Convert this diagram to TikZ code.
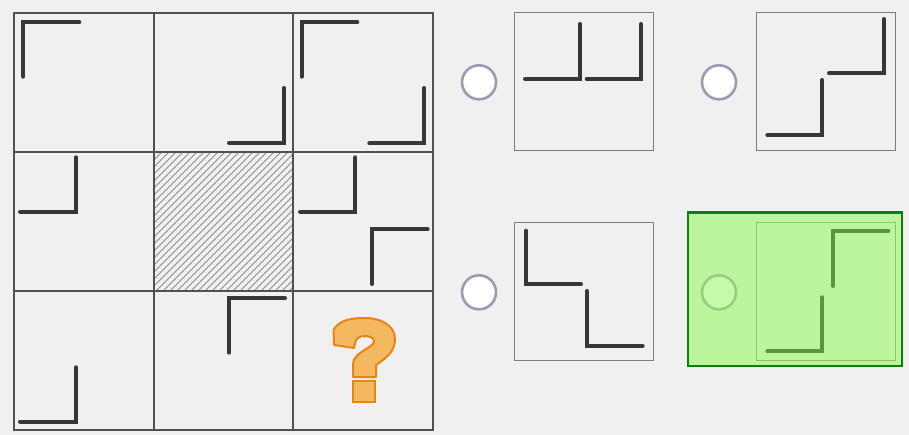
\documentclass[tikz,border=0pt]{standalone}
\usepackage{tikz}
\definecolor{bg}{RGB}{240,240,240}
\definecolor{gridc}{RGB}{80,80,80}
\definecolor{boxc}{RGB}{125,125,125}
\definecolor{lcol}{RGB}{55,55,55}
\definecolor{hatchc}{RGB}{140,140,140}
\definecolor{ringc}{RGB}{156,156,176}
\definecolor{qfill}{RGB}{244,184,96}
\definecolor{qline}{RGB}{232,132,16}
\definecolor{greenfill}{RGB}{187,245,158}
\definecolor{greenb}{RGB}{10,130,10}
\definecolor{greenbox}{RGB}{140,196,112}
\definecolor{greenline}{RGB}{90,150,62}
\definecolor{greenradio}{RGB}{196,250,168}
\definecolor{greenring}{RGB}{150,205,128}
\tikzset{
  lshape/.style={line width=4pt, draw=lcol, line cap=round, line join=miter},
  gridline/.style={line width=1.7pt, draw=gridc},
  optbox/.style={line width=1.3pt, draw=boxc},
  radio/.style={line width=2.6pt, draw=ringc, fill=white},
  hatchline/.style={line width=1pt, draw=hatchc},
}
\begin{document}
\begin{tikzpicture}[x=1pt,y=-1pt]
\useasboundingbox (0,0) rectangle (909,435);
\fill[bg] (0,0) rectangle (909,435);

% hatched centre cell
\begin{scope}
  \clip (154,152) rectangle (293,291);
  \foreach \c in {150,157,...,440} {
    \draw[hatchline] (\c,150) -- (\c-143,293);
  }
\end{scope}

% grid
\draw[gridline] (14,13) rectangle (433,430);
\draw[gridline] (154,13) -- (154,430);
\draw[gridline] (293,13) -- (293,430);
\draw[gridline] (14,152) -- (433,152);
\draw[gridline] (14,291) -- (433,291);

% row 1
\draw[lshape] (23.3,76.7) -- (23.3,22.3) -- (79.3,22.3);
\draw[lshape] (284,88) -- (284,143) -- (229,143);
\draw[lshape] (301.7,76.7) -- (301.7,22.3) -- (357.3,22.3);
\draw[lshape] (424.3,88) -- (424.3,143.3) -- (369.3,143.3);
% row 2
\draw[lshape] (76,157.3) -- (76,211.7) -- (20,211.7);
\draw[lshape] (355.3,157.3) -- (355.3,211.7) -- (300,211.7);
\draw[lshape] (372.3,284) -- (372.3,229.3) -- (427.7,229.3);
% row 3
\draw[lshape] (76,367.3) -- (76,421.7) -- (20,421.7);
\draw[lshape] (229,352.7) -- (229,298.3) -- (285,298.3);

% question mark
\draw[fill=qfill, draw=qline, line width=2pt, line join=round]
  (333.5,330) .. controls (338,321) and (350,318) .. (364,318)
  .. controls (382,318) and (395,326) .. (395,339)
  .. controls (395,352) and (386,358) .. (376,365)
  -- (376,377) -- (353,377) -- (353,364)
  .. controls (353,357) and (360,353) .. (366,349)
  .. controls (371,346) and (374,344) .. (374,341)
  .. controls (374,338) and (370,336) .. (364,336)
  .. controls (359,336) and (356,339) .. (355,343)
  -- (354,348) -- (334,345) -- cycle;
\draw[fill=qfill, draw=qline, line width=2pt] (352.5,380.5) rectangle (375,401.5);

% option A
\draw[radio] (479,82.3) circle (17);
\draw[optbox] (514.3,12.7) rectangle (653.7,150.7);
\draw[lshape] (580,24) -- (580,79) -- (525,79);
\draw[lshape] (641,24) -- (641,79) -- (586.7,79);

% option B
\draw[radio] (719,82.3) circle (17);
\draw[optbox] (756.7,12.7) rectangle (895.7,150.7);
\draw[lshape] (884,19) -- (884,73.3) -- (829,73.3);
\draw[lshape] (822.3,80) -- (822.3,135) -- (767.3,135);

% option C
\draw[radio] (479,292.3) circle (17);
\draw[optbox] (514.3,222.3) rectangle (653.7,360.7);
\draw[lshape] (526,230.7) -- (526,284.3) -- (581,284.3);
\draw[lshape] (586.7,291) -- (586.7,345.7) -- (642.7,345.7);

% option D (selected)
\draw[greenb, fill=greenfill, line width=2.4pt] (688,212.7) rectangle (901.7,366);
\draw[radio, draw=greenring, fill=greenradio] (719,292.3) circle (17);
\draw[optbox, draw=greenbox] (756.7,222.3) rectangle (895.7,360.7);
\draw[lshape, draw=greenline] (833.3,286) -- (833.3,231) -- (888.3,231);
\draw[lshape, draw=greenline] (822.3,297.3) -- (822.3,351) -- (767.3,351);
\end{tikzpicture}
\end{document}
